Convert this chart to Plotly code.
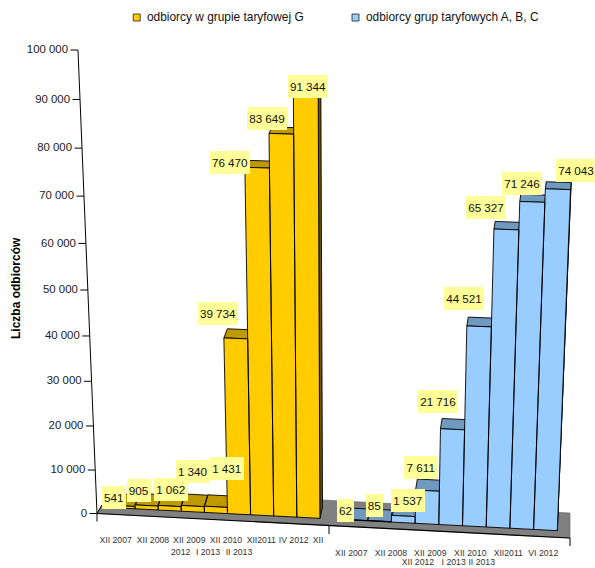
import plotly.graph_objects as go

# ---------- data ----------
categories_g = ["XII 2007", "XII 2008", "XII 2009", "XII 2010", "XII2011", "IV 2012", "XII 2012", "I 2013", "II 2013"]
categories_abc = ["XII 2007", "XII 2008", "XII 2009", "XII 2010", "XII2011", "VI 2012", "XII 2012", "I 2013", "II 2013"]
values_g = [541, 905, 1062, 1340, 1431, 39734, 76470, 83649, 91344]
values_abc = [62, 85, 1537, 7611, 21716, 44521, 65327, 71246, 74043]
name_g = "odbiorcy w grupie taryfowej G"
name_abc = "odbiorcy grup taryfowych A, B, C"
axis_title = "Liczba odbiorców"
axis_ticks = [0, 10000, 20000, 30000, 40000, 50000, 60000, 70000, 80000, 90000, 100000]

# ---------- layout of the pseudo-3D projection (page units) ----------
X0_G, STEP_G = 112.0, 23.1
X0_ABC, STEP_ABC = 344.0, 23.7
AXIS_X, AXIS_Y = 97.0, 513.5


def fmt(v):
    return f"{v:,}".replace(",", " ")


def height(v, x=300.0):
    u = 0.006875 * v / 10000
    return 43.16 * (v / 10000) / (1 - u) * (1 + (x - 300) * 0.00005)


def lean(x, h):
    return (x - 342) * h * 0.00018


def base_y(x):
    return 507.6 + 0.0518 * (x - 112)


def depth(x, v):
    return 4.5 - 0.0085 * (x - 100), 11.5 - 6.0 * v / 100000


def poly(points):
    xs = [p[0] for p in points] + [points[0][0], None]
    ys = [p[1] for p in points] + [points[0][1], None]
    return xs, ys


def bars(values, x0, step):
    fronts, tops, sides, label_pts = [[], []], [[], []], [[], []], []
    for i, v in enumerate(values):
        xl, xr = x0 + i * step, x0 + (i + 1) * step
        yl, yr = base_y(xl), base_y(xr)
        hl, hr = height(v, xl), height(v, xr)
        fl = (xl + lean(xl, hl), yl - hl)
        fr = (xr + lean(xr, hr), yr - hr)
        dxl, dy = depth(xl, v)
        dxr, _ = depth(xr, v)
        bl = (fl[0] + dxl, fl[1] - dy)
        br = (fr[0] + dxr, fr[1] - dy)
        d0x, d0y = depth(xr, 0)
        for store, pts in (
            (fronts, [(xl, yl), fl, fr, (xr, yr)]),
            (tops, [fl, bl, br, fr]),
            (sides, [(xr, yr), fr, br, (xr + d0x, yr - d0y)]),
        ):
            a, b = poly(pts)
            store[0] += a
            store[1] += b
        label_pts.append(((fl[0] + fr[0]) / 2, (fl[1] + fr[1]) / 2))
    return fronts, tops, sides, label_pts


fig = go.Figure()


def area(xy, fill, line="#000000", w=0.9):
    fig.add_trace(go.Scatter(x=xy[0], y=xy[1], mode="lines", fill="toself", fillcolor=fill,
                             line=dict(color=line, width=w), hoverinfo="skip", showlegend=False))


def stroke(xs, ys, w=1.0, color="#000000"):
    fig.add_trace(go.Scatter(x=xs, y=ys, mode="lines", line=dict(color=color, width=w),
                             hoverinfo="skip", showlegend=False))


# floor
floor = poly([(AXIS_X, AXIS_Y), (102, 505), (323, 500), (570, 513), (570, 538)])
area(floor, "#808080", "#606060", 0.6)
stroke([AXIS_X, 570], [AXIS_Y, 538], 1.2)
stroke([AXIS_X, 102], [AXIS_Y, 505], 1.0)
for sx, sy in ((AXIS_X, AXIS_Y), (329, 526), (570, 538)):
    stroke([sx, sx], [sy, sy + 8], 1.0)

# value axis
ax_x, ax_y, tick_x, tick_y, tick_text = [], [], [], [], []
for t in axis_ticks:
    h = height(t)
    px, py = AXIS_X + lean(AXIS_X, h) * 0.93, AXIS_Y - h
    ax_x.append(px)
    ax_y.append(py)
    stroke([px - 7.5, px], [py, py], 1.0)
    tick_x.append(px - 10)
    tick_y.append(py + 0.3)
    tick_text.append(fmt(t))
stroke(ax_x, ax_y, 1.0)
fig.add_trace(go.Scatter(x=tick_x, y=tick_y, mode="text", text=tick_text, textposition="middle left",
                         textfont=dict(family="Liberation Sans", size=11.4, color="#222222"),
                         hoverinfo="skip", showlegend=False, cliponaxis=False))

# bars
for values, x0, step, c_front, c_top, c_side in (
    (values_g, X0_G, STEP_G, "#FFCC00", "#BF9900", "#6B5500"),
    (values_abc, X0_ABC, STEP_ABC, "#99CCFF", "#7099C0", "#4C6680"),
):
    fronts, tops, sides, pts = bars(values, x0, step)
    area(sides, c_side)
    area(tops, c_top)
    area(fronts, c_front)
    if values is values_g:
        pts_g = pts
    else:
        pts_abc = pts

# value labels, offset from the top of their bar
off_g = [(-9.7, -7.9), (-7.5, -15), (1.4, -16.5), (0.3, -34.5), (11.2, -38.3),
         (-17.8, -24.7), (-27, -5.5), (-14.3, -15.3), (2, -10.7)]
off_abc = [(-10.3, -9.5), (-5, -15.6), (4.8, -15.5), (-6.5, -23.2), (-14.5, -27.9),
           (-15, -28.2), (-20.4, -22.1), (-10.3, -18.8), (18, -18.8)]
for values, pts, offs in ((values_g, pts_g, off_g), (values_abc, pts_abc, off_abc)):
    for v, (px, py), (ox, oy) in zip(values, pts, offs):
        txt = fmt(v)
        digits = len(str(v))
        w = digits * 6.5 + (7.5 if digits > 3 else 4)
        fig.add_annotation(x=px + ox, y=py + oy, text=txt, showarrow=False, bgcolor="#FFFF99",
                           width=w, height=23, borderpad=0, borderwidth=0, align="center", valign="middle",
                           font=dict(family="Liberation Sans", size=11.7, color="#111111"))


# category labels (wrapped over two rows as in the source)
def cat_labels(row1, row2, color="#333333"):
    xs, ys, ts = [], [], []
    for rows in (row1, row2):
        for px, py, t in rows:
            xs.append(px)
            ys.append(py)
            ts.append(t)
    fig.add_trace(go.Scatter(x=xs, y=ys, mode="text", text=ts, textposition="middle center",
                             textfont=dict(family="Liberation Sans", size=8.7, color=color),
                             hoverinfo="skip", showlegend=False, cliponaxis=False))


cat_labels(
    [(115.7, 541, categories_g[0]), (153, 541, categories_g[1]), (189.3, 541, categories_g[2]),
     (226, 541, categories_g[3]), (261.3, 541, categories_g[4]), (293.7, 541, categories_g[5]),
     (318, 541, categories_g[6].split()[0])],
    [(180.7, 552.7, categories_g[6].split()[1]), (208, 552.7, categories_g[7]), (239, 552.7, categories_g[8])],
)
cat_labels(
    [(351.3, 553.5, categories_abc[0]), (391, 553.5, categories_abc[1]), (430.3, 553.5, categories_abc[2]),
     (470.3, 553.5, categories_abc[3]), (508.3, 553.5, categories_abc[4]), (543.3, 553.5, categories_abc[5])],
    [(418, 562.6, categories_abc[6]), (453.7, 562.6, categories_abc[7]), (481.7, 562.6, categories_abc[8])],
)

# legend
for name, color, sx in ((name_g, "#FFCC00", 136.7), (name_abc, "#99CCFF", 355.5)):
    fig.add_trace(go.Scatter(x=[sx], y=[17.5], mode="markers", hoverinfo="skip", showlegend=False,
                             marker=dict(symbol="square", size=7, color=color, line=dict(color="#222222", width=0.8))))
    fig.add_annotation(x=sx + 8.6, y=17, text=name, showarrow=False, xanchor="left",
                       font=dict(family="Liberation Sans", size=11.9, color="#111111"))

# value axis title
fig.add_annotation(x=16, y=288, text=f"<b>{axis_title}</b>", textangle=-90, showarrow=False,
                   font=dict(family="Liberation Sans", size=12, color="#000000"))

fig.update_layout(
    width=595, height=568, margin=dict(l=0, r=0, t=0, b=0),
    paper_bgcolor="#FFFFFF", plot_bgcolor="#FFFFFF", showlegend=False,
    xaxis=dict(range=[0, 595], visible=False, fixedrange=True),
    yaxis=dict(range=[568, 0], visible=False, fixedrange=True),
)
fig.write_html("out.html", config={"displayModeBar": False}, post_script="document.body.style.margin='0';")
